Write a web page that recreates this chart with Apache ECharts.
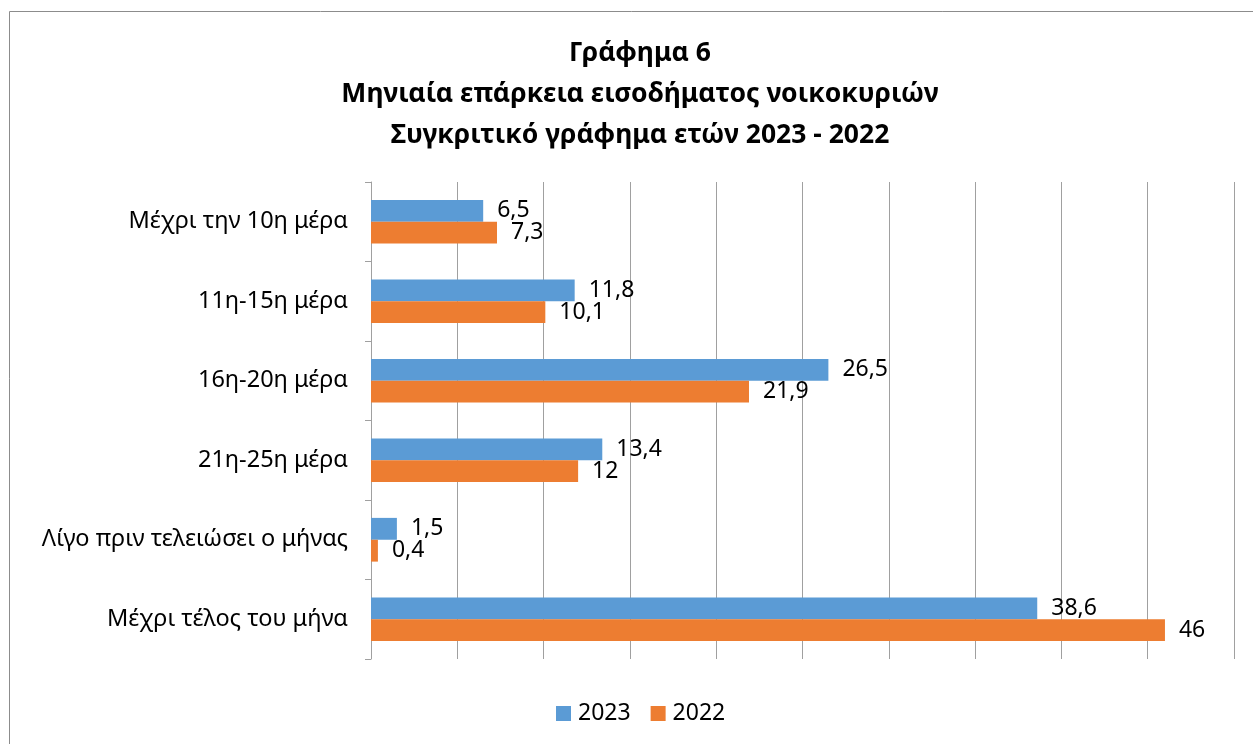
<!DOCTYPE html>
<html><head><meta charset="utf-8">
<script src="https://cdn.jsdelivr.net/npm/echarts@6/dist/echarts.min.js"></script>
<style>html,body{margin:0;padding:0;background:#fff}#c{width:1253px;height:744px}</style>
</head><body><div id="c"></div>
<script>
const categories = ["Μέχρι την 10η μέρα","11η-15η μέρα","16η-20η μέρα","21η-25η μέρα","Λίγο πριν τελειώσει ο μήνας","Μέχρι τέλος του μήνα"];
const values2023 = [6.5, 11.8, 26.5, 13.4, 1.5, 38.6];
const values2022 = [7.3, 10.1, 21.9, 12, 0.4, 46];
const seriesNames = ["2023","2022"];
const titleLines = ["Γράφημα 6","Μηνιαία επάρκεια εισοδήματος νοικοκυριών","Συγκριτικό γράφημα ετών 2023 - 2022"];

const FONT = "Noto Sans";
const fmt = p => String(p.value).replace('.', ',');
const chart = echarts.init(document.getElementById('c'));
chart.setOption({
  animation: false,
  textStyle: {fontFamily: FONT},
  graphic: [{type:'rect', shape:{x:9.5,y:11.5,width:1300,height:800}, style:{fill:'none', stroke:'#8c8c8c', lineWidth:1}, z:-1}],
  title: {
    text: titleLines.join('\n'),
    left: 635, textAlign: 'center', top: 28,
    textStyle: {fontFamily: FONT, fontSize: 26.5, fontWeight: 'bold', color:'#000', lineHeight: 41}
  },
  legend: {
    data: seriesNames, top: 697, left: 551, itemWidth: 15, itemHeight: 15, itemGap: 20,
    icon: 'rect',
    textStyle: {fontFamily: FONT, fontSize: 23, color:'#000', padding: [0,0,0,2]}
  },
  grid: {left: 371, right: 19, top: 182, bottom: 85, containLabel: false},
  xAxis: {
    type: 'value', min: 0, max: 50, interval: 5,
    axisLabel: {show: false}, axisLine: {show: false}, axisTick: {show: false},
    splitLine: {show: true, lineStyle: {color: '#a0a0a0', width: 1}}
  },
  yAxis: {
    type: 'category', data: categories, inverse: true,
    axisLine: {show: true, lineStyle: {color: '#a0a0a0'}},
    axisTick: {show: true, length: 6, lineStyle:{color:'#a0a0a0'}},
    axisLabel: {fontFamily: FONT, fontSize: 23.5, color: '#000', margin: 23}
  },
  series: [
    {name: seriesNames[0], type: 'bar', data: values2023, barGap: '0%', barCategoryGap: '45%',
     itemStyle: {color: '#5B9BD5'},
     label: {show: true, position: 'right', distance: 14, formatter: fmt, fontFamily: FONT, fontSize: 23, color: '#000'}},
    {name: seriesNames[1], type: 'bar', data: values2022, barGap: '0%', barCategoryGap: '45%',
     itemStyle: {color: '#ED7D31'},
     label: {show: true, position: 'right', distance: 14, formatter: fmt, fontFamily: FONT, fontSize: 23, color: '#000'}}
  ]
});
</script></body></html>
